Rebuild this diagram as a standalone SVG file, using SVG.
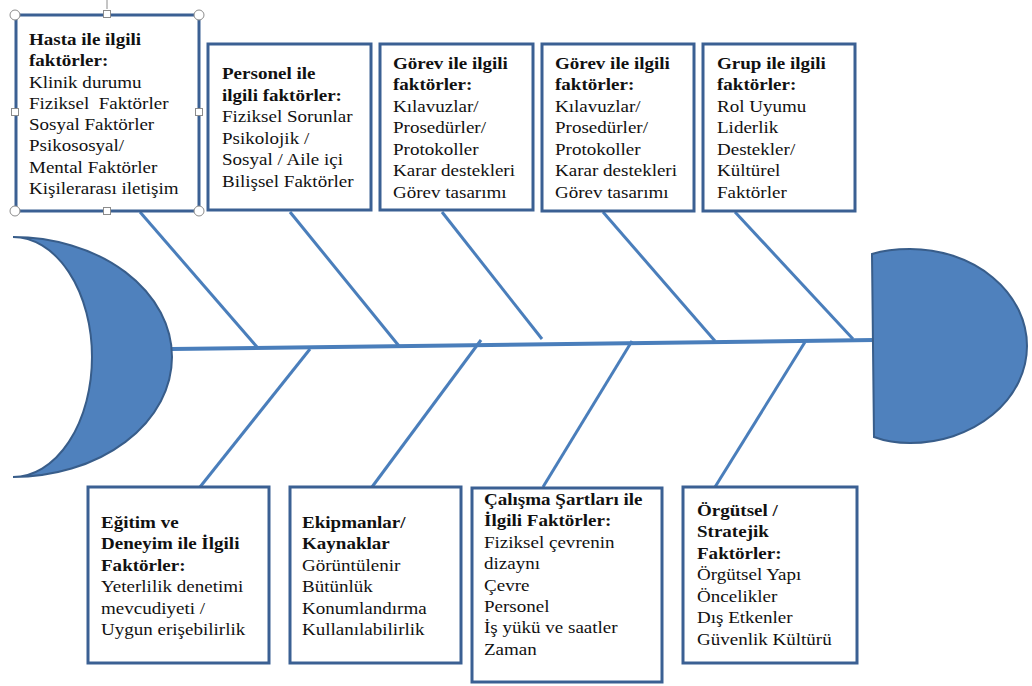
<svg xmlns="http://www.w3.org/2000/svg" width="1032" height="686" viewBox="0 0 1032 686">
<style>
.box{fill:#fff;stroke:#3b6093;stroke-width:3}
.bone{stroke:#4a7ebb;stroke-width:3;fill:none;stroke-linecap:butt}
.spine{stroke:#4a7ebb;stroke-width:4;fill:none}
.shape{fill:#4f81bd;stroke:#385d8a;stroke-width:2}
.t{font-family:"Liberation Serif","Times New Roman",serif;font-size:17px;fill:#111;white-space:pre}
.b{font-weight:bold}
.hc{fill:#fff;stroke:#8c8c8c;stroke-width:1}
</style>
<rect width="1032" height="686" fill="#fff"/>
<g id="connectors">
<line class="spine" x1="172" y1="349" x2="874" y2="340"/>
<line class="bone" x1="140" y1="212" x2="257" y2="347"/>
<line class="bone" x1="290" y1="212" x2="399" y2="346"/>
<line class="bone" x1="442" y1="212" x2="542" y2="339"/>
<line class="bone" x1="603" y1="212" x2="715" y2="341"/>
<line class="bone" x1="735" y1="212" x2="853" y2="339"/>
<line class="bone" x1="310" y1="349" x2="200" y2="487"/>
<line class="bone" x1="481" y1="340" x2="372" y2="487"/>
<line class="bone" x1="632" y1="341" x2="543" y2="487"/>
<line class="bone" x1="805" y1="342" x2="715" y2="487"/>
</g>
<g id="tail">
<path class="shape" d="M13,237 A159,120 0 0 1 13,477 A79,120 0 0 0 13,237 Z"/>
</g>
<g id="head">
<path class="shape" d="M872,254 Q888,249 910,249 A117,97 0 0 1 910,443 Q890,443 874,437 Z"/>
</g>
<g id="box1">
<rect class="box" x="16" y="15" width="183" height="196"/>
<text class="t" transform="translate(29,0) scale(1.12,1)"><tspan class="b" x="0" y="45">Hasta ile ilgili</tspan><tspan class="b" x="0" y="66.3">faktörler:</tspan><tspan x="0" y="87.6">Klinik durumu</tspan><tspan x="0" y="108.9">Fiziksel  Faktörler</tspan><tspan x="0" y="130.2">Sosyal Faktörler</tspan><tspan x="0" y="151.5">Psikososyal/</tspan><tspan x="0" y="172.8">Mental Faktörler</tspan><tspan x="0" y="194.1">Kişilerarası iletişim</tspan></text>
<line x1="107" y1="0" x2="107" y2="9" stroke="#8c8c8c" stroke-width="1"/>
<circle class="hc" cx="15" cy="15" r="5"/>
<circle class="hc" cx="199" cy="15" r="5"/>
<circle class="hc" cx="15" cy="211" r="5"/>
<circle class="hc" cx="199" cy="211" r="5"/>
<rect class="hc" x="103.5" y="10.5" width="7" height="7"/>
<rect class="hc" x="103.5" y="207.5" width="7" height="7"/>
<rect class="hc" x="11.5" y="108.5" width="7" height="7"/>
<rect class="hc" x="195.5" y="108.5" width="7" height="7"/>
</g>
<g id="box2">
<rect class="box" x="208" y="44" width="163" height="166"/>
<text class="t" transform="translate(222,0) scale(1.12,1)"><tspan class="b" x="0" y="79">Personel ile</tspan><tspan class="b" x="0" y="100.6">ilgili faktörler:</tspan><tspan x="0" y="122.2">Fiziksel Sorunlar</tspan><tspan x="0" y="143.8">Psikolojik /</tspan><tspan x="0" y="165.4">Sosyal / Aile içi</tspan><tspan x="0" y="187">Bilişsel Faktörler</tspan></text>
</g>
<g id="box3">
<rect class="box" x="380" y="44" width="153" height="166"/>
<text class="t" transform="translate(393,0) scale(1.12,1)"><tspan class="b" x="0" y="69">Görev ile ilgili</tspan><tspan class="b" x="0" y="90.5">faktörler:</tspan><tspan x="0" y="112">Kılavuzlar/</tspan><tspan x="0" y="133.5">Prosedürler/</tspan><tspan x="0" y="155">Protokoller</tspan><tspan x="0" y="176.5">Karar destekleri</tspan><tspan x="0" y="198">Görev tasarımı</tspan></text>
</g>
<g id="box4">
<rect class="box" x="542" y="44" width="152" height="167"/>
<text class="t" transform="translate(555,0) scale(1.12,1)"><tspan class="b" x="0" y="69">Görev ile ilgili</tspan><tspan class="b" x="0" y="90.5">faktörler:</tspan><tspan x="0" y="112">Kılavuzlar/</tspan><tspan x="0" y="133.5">Prosedürler/</tspan><tspan x="0" y="155">Protokoller</tspan><tspan x="0" y="176.5">Karar destekleri</tspan><tspan x="0" y="198">Görev tasarımı</tspan></text>
</g>
<g id="box5">
<rect class="box" x="703" y="44" width="152" height="167"/>
<text class="t" transform="translate(717,0) scale(1.12,1)"><tspan class="b" x="0" y="69">Grup ile ilgili</tspan><tspan class="b" x="0" y="90.5">faktörler:</tspan><tspan x="0" y="112">Rol Uyumu</tspan><tspan x="0" y="133.5">Liderlik</tspan><tspan x="0" y="155">Destekler/</tspan><tspan x="0" y="176.5">Kültürel</tspan><tspan x="0" y="198">Faktörler</tspan></text>
</g>
<g id="box6">
<rect class="box" x="88" y="487" width="181" height="176"/>
<text class="t" transform="translate(101,0) scale(1.12,1)"><tspan class="b" x="0" y="528">Eğitim ve</tspan><tspan class="b" x="0" y="549.5">Deneyim ile İlgili</tspan><tspan class="b" x="0" y="571">Faktörler:</tspan><tspan x="0" y="592.5">Yeterlilik denetimi</tspan><tspan x="0" y="614">mevcudiyeti /</tspan><tspan x="0" y="635.5">Uygun erişebilirlik</tspan></text>
</g>
<g id="box7">
<rect class="box" x="290" y="487" width="171" height="176"/>
<text class="t" transform="translate(302,0) scale(1.12,1)"><tspan class="b" x="0" y="528">Ekipmanlar/</tspan><tspan class="b" x="0" y="549.5">Kaynaklar</tspan><tspan x="0" y="571">Görüntülenir</tspan><tspan x="0" y="592.5">Bütünlük</tspan><tspan x="0" y="614">Konumlandırma</tspan><tspan x="0" y="635.5">Kullanılabilirlik</tspan></text>
</g>
<g id="box8">
<rect class="box" x="472" y="488" width="190" height="194"/>
<text class="t" transform="translate(484,0) scale(1.12,1)"><tspan class="b" x="0" y="505">Çalışma Şartları ile</tspan><tspan class="b" x="0" y="526.4">İlgili Faktörler:</tspan><tspan x="0" y="547.8">Fiziksel çevrenin</tspan><tspan x="0" y="569.2">dizaynı</tspan><tspan x="0" y="590.6">Çevre</tspan><tspan x="0" y="612">Personel</tspan><tspan x="0" y="633.4">İş yükü ve saatler</tspan><tspan x="0" y="654.8">Zaman</tspan></text>
</g>
<g id="box9">
<rect class="box" x="683" y="487" width="174" height="176"/>
<text class="t" transform="translate(697,0) scale(1.12,1)"><tspan class="b" x="0" y="516">Örgütsel /</tspan><tspan class="b" x="0" y="537.5">Stratejik</tspan><tspan class="b" x="0" y="559">Faktörler:</tspan><tspan x="0" y="580.5">Örgütsel Yapı</tspan><tspan x="0" y="602">Öncelikler</tspan><tspan x="0" y="623.5">Dış Etkenler</tspan><tspan x="0" y="645">Güvenlik Kültürü</tspan></text>
</g>
</svg>
